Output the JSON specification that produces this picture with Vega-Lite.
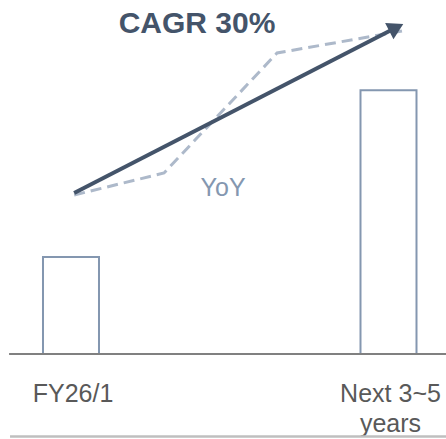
{
  "$schema": "https://vega.github.io/schema/vega-lite/v6.json",
  "width": 446,
  "height": 439,
  "autosize": "none",
  "padding": 0,
  "background": "white",
  "config": {"view": {"stroke": null}, "text": {"font": "Liberation Sans"}},
  "datasets": {
    "bars": [
      {"label": "FY26/1", "pos": 0, "value": 100},
      {"label": ["Next 3~5", "years"], "pos": 1, "value": 272}
    ],
    "trend": [
      {"pos": 0.01, "value": 166},
      {"pos": 1.0245, "value": 336.6}
    ],
    "head": [
      {"pos": 1.0245, "value": 336.6}
    ],
    "yoy": [
      {"pos": 0.01, "value": 163.9},
      {"pos": 0.293, "value": 186.6},
      {"pos": 0.649, "value": 310.3},
      {"pos": 1.0425, "value": 333.0}
    ],
    "single": [{}]
  },
  "layer": [
    {
      "data": {"name": "bars"},
      "mark": {"type": "bar", "size": 56, "fill": "white", "stroke": "#8497B0", "strokeWidth": 2},
      "encoding": {
        "x": {"field": "pos", "type": "quantitative", "axis": null, "scale": {"domain": [-0.2236, 1.1811], "nice": false, "zero": false, "padding": 0}},
        "y": {"field": "value", "type": "quantitative", "axis": null, "scale": {"domain": [-87.63, 364.95], "nice": false, "zero": false, "padding": 0}}
      }
    },
    {
      "data": {"name": "single"},
      "mark": {"type": "rule", "color": "#808080", "strokeWidth": 2},
      "encoding": {
        "x": {"datum": -0.195, "type": "quantitative"},
        "x2": {"datum": 1.1811},
        "y": {"datum": 0, "type": "quantitative"}
      }
    },
    {
      "data": {"name": "yoy"},
      "mark": {"type": "line", "color": "#ADB9CA", "strokeWidth": 3, "strokeDash": [11, 6]},
      "encoding": {
        "x": {"field": "pos", "type": "quantitative"},
        "y": {"field": "value", "type": "quantitative"}
      }
    },
    {
      "data": {"name": "trend"},
      "mark": {"type": "line", "color": "#44546A", "strokeWidth": 4},
      "encoding": {
        "x": {"field": "pos", "type": "quantitative"},
        "y": {"field": "value", "type": "quantitative"}
      }
    },
    {
      "data": {"name": "head"},
      "mark": {"type": "point", "shape": "triangle-right", "filled": true, "color": "#44546A", "opacity": 1, "size": 330, "angle": 332.7},
      "encoding": {
        "x": {"field": "pos", "type": "quantitative"},
        "y": {"field": "value", "type": "quantitative"}
      }
    },
    {
      "data": {"name": "single"},
      "mark": {"type": "text", "text": "CAGR 30%", "fontSize": 30, "fontWeight": "bold", "color": "#44546A", "align": "center", "baseline": "alphabetic"},
      "encoding": {
        "x": {"datum": 0.397, "type": "quantitative"},
        "y": {"datum": 330.9, "type": "quantitative"}
      }
    },
    {
      "data": {"name": "single"},
      "mark": {"type": "text", "text": "YoY", "fontSize": 25, "color": "#8497B0", "align": "center", "baseline": "alphabetic"},
      "encoding": {
        "x": {"datum": 0.479, "type": "quantitative"},
        "y": {"datum": 162.9, "type": "quantitative"}
      }
    },
    {
      "data": {"name": "bars"},
      "mark": {"type": "text", "fontSize": 25, "color": "#595959", "align": "center", "baseline": "alphabetic", "lineHeight": 30, "dx": 2},
      "encoding": {
        "x": {"field": "pos", "type": "quantitative"},
        "y": {"datum": -50, "type": "quantitative"},
        "text": {"field": "label"}
      }
    },
    {
      "data": {"name": "single"},
      "mark": {"type": "rule", "color": "#BFBFBF", "strokeWidth": 2.5},
      "encoding": {
        "x": {"datum": -0.192, "type": "quantitative"},
        "x2": {"datum": 1.1811},
        "y": {"datum": -85.05, "type": "quantitative"}
      }
    }
  ]
}
